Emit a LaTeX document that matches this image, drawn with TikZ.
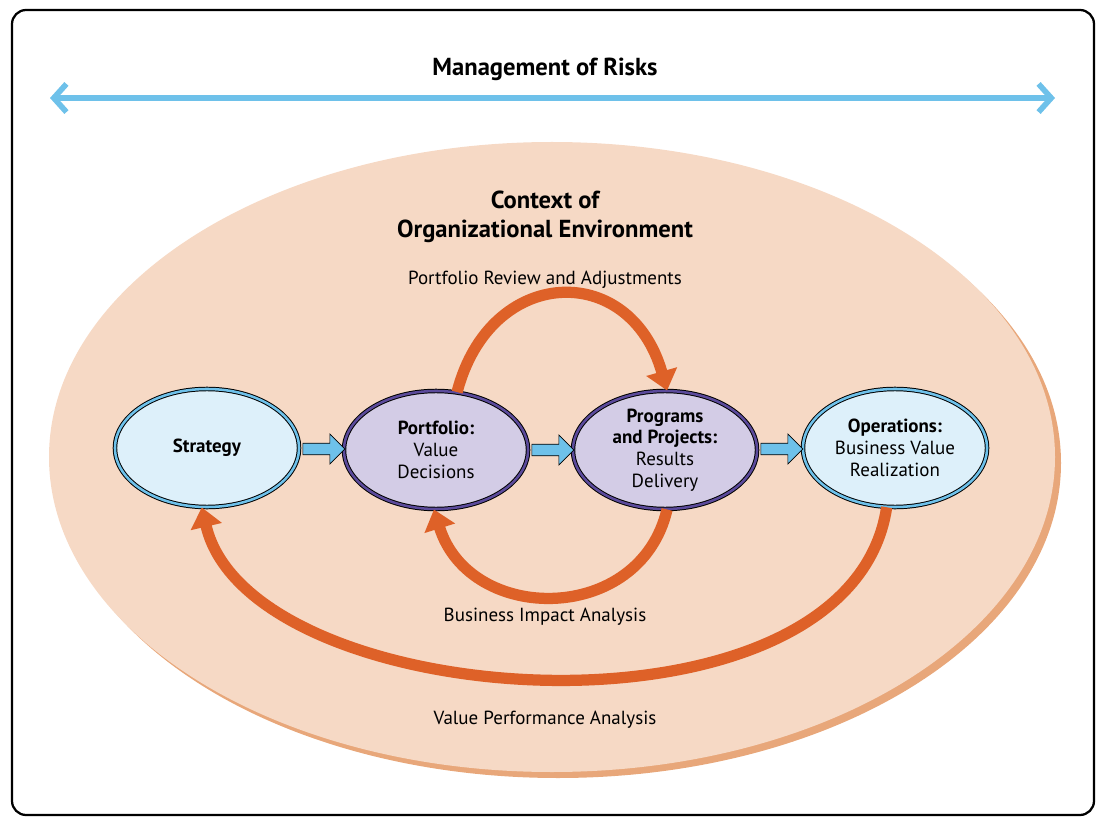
\documentclass[tikz,border=0pt]{standalone}
\usepackage{fontspec}
\setmainfont{PT Sans}
\usetikzlibrary{shapes.geometric,shapes.arrows,arrows.meta}
\definecolor{riskblue}{HTML}{6EC1EA}
\definecolor{envfill}{HTML}{F6D9C5}
\definecolor{envedge}{HTML}{E8A77A}
\definecolor{loopred}{HTML}{DE6128}
\definecolor{lightfill}{HTML}{DDF0FA}
\definecolor{lavfill}{HTML}{D3CCE6}
\definecolor{purpedge}{HTML}{5B4A9B}
\tikzset{
  stage/.style={ellipse, draw=black, line width=0.7pt, double=riskblue,
    double distance=1.8pt, fill=lightfill, minimum width=4.6cm,
    minimum height=2.95cm, align=center, font=\fontsize{13.5}{15.5}\selectfont, inner sep=0pt},
  core/.style={stage, double=purpedge, fill=lavfill},
  handoff/.style={single arrow, draw=black, line width=0.5pt, fill=riskblue,
    minimum height=1.05cm, minimum width=0.75cm, single arrow head extend=2pt, inner sep=1pt},
  feedback/.style={line width=8pt, draw=loopred, -{Triangle[length=14pt,width=22pt]}},
  caption/.style={font=\fontsize{13.5}{15.5}\selectfont}
}
\begin{document}
\begin{tikzpicture}[x=0.025cm,y=0.025cm]
  \useasboundingbox (0,0) rectangle (1106,825);
  \draw[line width=1.6pt, rounded corners=10pt] (12,10) rectangle (1094,815);

  % risks
  \node[font=\fontsize{17.5}{20}\selectfont\bfseries] (risks) at (545,756) {Management of Risks};
  \coordinate (riskL) at (50,727);
  \coordinate (riskR) at (1055,727);
  \draw[line width=4pt, riskblue, {Straight Barb[length=9pt,width=20pt]}-{Straight Barb[length=9pt,width=20pt]}] (riskL) -- (riskR);

  % environment
  \fill[envedge] (558,362) ellipse [x radius=503, y radius=315];
  \fill[envfill] (552,368) ellipse [x radius=503, y radius=315];
  \node[font=\fontsize{17.5}{21}\selectfont\bfseries, align=center] (env) at (545,608) {Context of\\Organizational Environment};

  % stages
  \node[stage] (strat) at (207,377) {\textbf{Strategy}};
  \node[core] (pf) at (436,375) {\textbf{Portfolio:}\\Value\\Decisions};
  \node[core] (pp) at (665,375) {\textbf{Programs}\\\textbf{and Projects:}\\Results\\Delivery};
  \node[stage] (ops) at (895,377) {\textbf{Operations:}\\Business Value\\Realization};

  \node[handoff] (s1) at (321,376) {};
  \node[handoff] (s2) at (550,375) {};
  \node[handoff] (s3) at (779,376) {};

  % loops
  \draw[feedback] (pf.70) .. controls (490,560) and (630,565) .. (pp.88);
  \draw[feedback] (pp.-88) .. controls (640,200) and (470,200) .. (pf.-92);
  \draw[feedback] (ops.-98) .. controls (850,70) and (250,110) .. (strat.-95);

  \node[caption] (review) at (545,545) {Portfolio Review and Adjustments};
  \node[caption] (impact) at (545,208) {Business Impact Analysis};
  \node[caption] (value) at (545,105) {Value Performance Analysis};
\end{tikzpicture}
\end{document}
